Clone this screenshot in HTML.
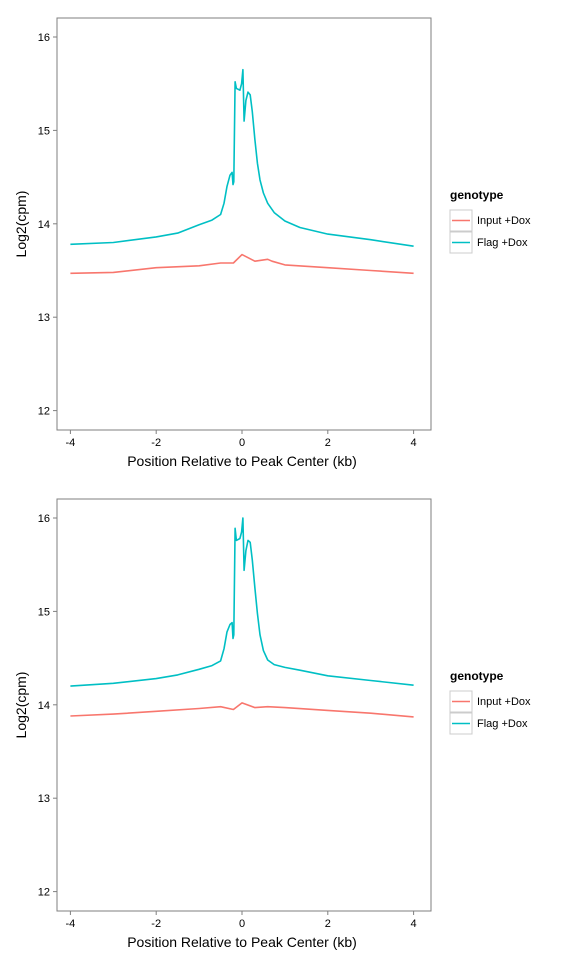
<!DOCTYPE html>
<html><head><meta charset="utf-8"><style>
body{margin:0;background:#fff}
svg{display:block;font-family:"Liberation Sans",sans-serif}
</style></head><body>
<svg id="c" width="576" height="960"></svg>
<script>
const xTicks=[-4,-2,0,2,4];
const yTicks=[12,13,14,15,16];
const seriesNames=["Input +Dox","Flag +Dox"];
const colors=["#F8766D","#00BFC4"];
const teal1X=[-4,-3,-2,-1.5,-1,-0.7,-0.5,-0.42,-0.35,-0.28,-0.23,-0.21,-0.19,-0.16,-0.13,-0.05,-0.01,0.02,0.05,0.09,0.14,0.19,0.24,0.3,0.36,0.42,0.5,0.6,0.75,1.0,1.35,2,3,4];
const teal1Y=[13.78,13.8,13.86,13.9,13.99,14.04,14.1,14.22,14.4,14.52,14.55,14.42,14.45,15.52,15.45,15.43,15.5,15.65,15.1,15.32,15.41,15.38,15.2,14.9,14.65,14.47,14.33,14.22,14.12,14.03,13.96,13.89,13.83,13.76];
const red1X=[-4,-3,-2,-1,-0.5,-0.2,0,0.3,0.6,0.7,1,2,3,4];
const red1Y=[13.47,13.48,13.53,13.55,13.58,13.58,13.67,13.6,13.62,13.6,13.56,13.53,13.5,13.47];
const teal2X=[-4,-3,-2,-1.5,-1,-0.7,-0.5,-0.42,-0.35,-0.28,-0.23,-0.21,-0.19,-0.16,-0.13,-0.05,-0.01,0.02,0.05,0.09,0.14,0.19,0.24,0.3,0.36,0.42,0.5,0.6,0.75,1.0,1.35,2,3,4];
const teal2Y=[14.2,14.23,14.28,14.32,14.38,14.42,14.47,14.6,14.78,14.86,14.88,14.71,14.75,15.89,15.76,15.78,15.85,16.0,15.44,15.65,15.76,15.74,15.55,15.25,14.98,14.75,14.58,14.48,14.43,14.4,14.37,14.31,14.26,14.21];
const red2X=[-4,-3,-2,-1,-0.5,-0.2,0,0.3,0.6,1,2,3,4];
const red2Y=[13.88,13.9,13.93,13.96,13.98,13.95,14.02,13.97,13.98,13.97,13.94,13.91,13.87];
const svg=document.getElementById('c');const NS="http://www.w3.org/2000/svg";
function el(t,a,p){const e=document.createElementNS(NS,t);for(const k in a)e.setAttribute(k,a[k]);(p||svg).appendChild(e);return e;}
function panel(top,series,idx){
 const L=57,R=431,T=top,B=top+412;
 const xs=v=>242+v*42.9;
 const ys=v=>(top+19)+(16-v)*93.4;
 const g=el('g',{});
 
 
 const r=el('rect',{x:L,y:T,width:R-L,height:B-T,fill:'#fff',stroke:'#7f7f7f','stroke-width':1},g);
 
 
 yTicks.forEach(v=>{
  el('line',{x1:L-4,x2:L,y1:ys(v),y2:ys(v),stroke:'#7f7f7f'},g);
  const t=el('text',{x:L-7,y:ys(v)+4,'text-anchor':'end','font-size':11,fill:'#000'},g);t.textContent=v;
  
  
 });
 xTicks.forEach(v=>{
  el('line',{x1:xs(v),x2:xs(v),y1:B,y2:B+4,stroke:'#7f7f7f'},g);
  const t=el('text',{x:xs(v),y:B+16,'text-anchor':'middle','font-size':11,fill:'#000'},g);t.textContent=v;
  
  
 });
 const xt=el('text',{x:242,y:B+36,'text-anchor':'middle','font-size':14},g);xt.textContent='Position Relative to Peak Center (kb)';
 
 
 const yt=el('text',{x:0,y:0,'text-anchor':'middle','font-size':14,transform:`translate(26,${(T+B)/2}) rotate(-90)`},g);yt.textContent='Log2(cpm)';
 
 
 series.forEach((s,i)=>{
  const d=s[0].map((x,j)=>(j?'L':'M')+xs(x).toFixed(1)+','+ys(s[1][j]).toFixed(1)).join('');
  const p=el('path',{d:d,fill:'none',stroke:colors[i],'stroke-width':1.6,'stroke-linejoin':'round'},g);
  
  
 });
 const ly=T+181;
 const lt=el('text',{x:450,y:ly,'font-size':12,'font-weight':'bold'},g);lt.textContent='genotype';
 
 
 seriesNames.forEach((n,i)=>{
  const y0=ly+11+i*22;
  const lg=el('g',{},g);
  
  
  el('rect',{x:450,y:y0,width:22,height:21,fill:'#fff',stroke:'#ccc'},lg);
  el('line',{x1:452,x2:470,y1:y0+10.5,y2:y0+10.5,stroke:colors[i],'stroke-width':1.6},lg);
  const t=el('text',{x:477,y:y0+14,'font-size':11},lg);t.textContent=n;
 });
}
panel(18,[[red1X,red1Y],[teal1X,teal1Y]],1);
panel(499,[[red2X,red2Y],[teal2X,teal2Y]],2);
</script>
</body></html>
